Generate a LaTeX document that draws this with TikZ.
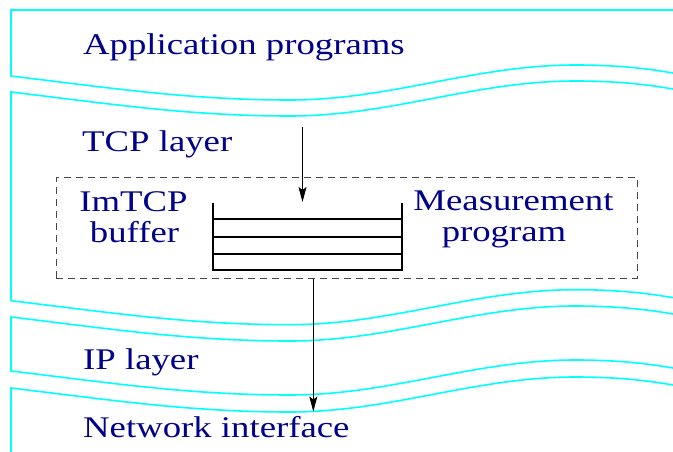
\documentclass[tikz,border=0pt]{standalone}
\usepackage{graphicx}
\usepackage{fontspec}
\setmainfont{Liberation Serif}
\usetikzlibrary{arrows.meta}
\definecolor{txtblue}{RGB}{0,0,139}
\definecolor{lyrcyan}{RGB}{0,255,255}
\definecolor{dgray}{RGB}{70,70,70}
\newcommand{\wvfw}[1]{(11,#1) .. controls (111,#1+12) and (190,#1+24) .. (290,#1+24) .. controls (390,#1+24) and (475,#1-11) .. (575,#1-11) .. controls (620,#1-11) and (650,#1-7) .. (673,#1-3)}
\newcommand{\wvbk}[1]{(673,#1-3) .. controls (650,#1-7) and (620,#1-11) .. (575,#1-11) .. controls (475,#1-11) and (390,#1+24) .. (290,#1+24) .. controls (190,#1+24) and (111,#1+12) .. (11,#1)}
\newcommand{\lbl}[1]{\scalebox{1.225}[1]{#1}}
\begin{document}
\begin{tikzpicture}[x=1pt,y=-1pt,
  layer/.style={draw=lyrcyan,line width=1.6pt,line join=miter},
  lbltext/.style={text=txtblue,font=\fontsize{30}{35}\selectfont,inner sep=0pt},
  dbox/.style={draw=dgray,line width=0.9pt,dash pattern=on 7pt off 5pt,inner sep=0pt},
  bufline/.style={draw=black,line width=2pt},
  arr/.style={draw=black,line width=0.9pt,-{Stealth[length=15pt,width=8pt,inset=3pt]}}]
\useasboundingbox (0,0) rectangle (673,452);
% layers
\draw[layer] (673,10) -- (11,10) -- \wvfw{76};
\draw[layer] \wvbk{92} -- \wvfw{300.7};
\draw[layer] \wvbk{317} -- \wvfw{371};
\draw[layer] \wvbk{388} -- (11,460);
% labels
\node[lbltext,anchor=base west] (app) at (83,55) {\lbl{Application programs}};
\node[lbltext,anchor=base west] (tcp) at (82,151) {\lbl{TCP layer}};
\node[lbltext,anchor=base west] (ip) at (83,369) {\lbl{IP layer}};
\node[lbltext,anchor=base west] (net) at (83,437) {\lbl{Network interface}};
% dashed measurement box
\node[dbox,minimum width=581pt,minimum height=100.6pt] (meas) at (346.5,228) {};
\node[lbltext,anchor=base] (imtcp) at (133.5,211.5) {\lbl{ImTCP}};
\node[lbltext,anchor=base] (buf) at (134.5,242.5) {\lbl{buffer}};
\node[lbltext,anchor=base] (mp1) at (513.5,210.7) {\lbl{Measurement}};
\node[lbltext,anchor=base] (mp2) at (504,241.7) {\lbl{program}};
% buffer
\coordinate (bl) at (213,202.7);
\coordinate (br) at (402,202.7);
\coordinate (bbl) at (213,270);
\coordinate (bbr) at (402,270);
\draw[bufline,line join=miter] (bl) -- (bbl) -- (bbr) -- (br);
\draw[bufline] (213,219.3) -- (402,219.3);
\draw[bufline] (213,236.7) -- (402,236.7);
\draw[bufline] (213,253.7) -- (402,253.7);
% arrows
\coordinate (tcpin) at (302.5,127);
\coordinate (bufin) at (302.5,202);
\draw[arr] (tcpin) -- (bufin);
\coordinate (nettop) at (313.3,411.5);
\draw[arr] (nettop |- meas.south) -- (nettop);
\end{tikzpicture}
\end{document}
